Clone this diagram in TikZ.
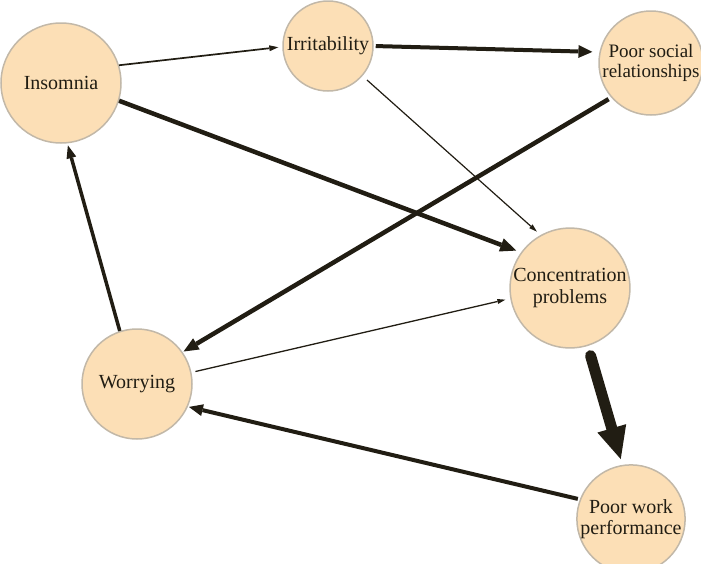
\documentclass[tikz,border=0pt]{standalone}
\usepackage{fontspec}
\setmainfont{Liberation Serif}
\usetikzlibrary{arrows.meta}
\definecolor{peach}{HTML}{FCDFB6}
\definecolor{rim}{HTML}{C2B8A8}
\definecolor{ink}{HTML}{211D13}
\begin{document}
\begin{tikzpicture}[x=1pt,y=-1pt,
  state/.style={circle,fill=peach,draw=rim,line width=1.5pt,inner sep=0pt,
    align=center,text=ink,font=\fontsize{20}{21}\selectfont},
  edge/.style={draw=ink,line cap=butt}]
\useasboundingbox (0,0) rectangle (701,563);
\node[state,minimum size=120pt] (ins) at (61,83) {Insomnia};
\node[state,minimum size=90pt] (irr) at (328,46) {Irritability};
\node[state,minimum size=86pt,font=\fontsize{19}{20}\selectfont] (pso) at (651,63) {Poor social\\relationships};
\node[state,minimum size=112pt] (con) at (570,288) {Concentration\\[1pt]problems};
\node[state,minimum size=110pt] (wor) at (137,384) {Worrying};
\node[state,minimum size=90pt] (pwp) at (631,519) {Poor work\\performance};

\draw[edge,line width=1.7pt,-{Triangle[length=9pt,width=6pt,line width=0pt]},shorten >=4pt] (ins.17) -- (irr.181);
\draw[edge,line width=4pt,-{Triangle[length=14pt,width=13pt,line width=0pt]},shorten >=7pt,shorten <=2pt] (irr.0) -- (pso.168);
\draw[edge,line width=1.2pt,-{Triangle[length=8pt,width=5pt,line width=0pt]},shorten >=5pt,shorten <=6pt] (irr.-41) -- (con.119);
\draw[edge,line width=4.5pt,-{Triangle[length=16pt,width=14pt,line width=0pt]},shorten >=5pt] (ins.-17) -- (con.144);
\draw[edge,line width=4.5pt,-{Triangle[length=15pt,width=13pt,line width=0pt]},shorten >=1pt,shorten <=3pt] (pso.-139) -- (wor.35);
\draw[edge,line width=1.3pt,-{Triangle[length=8pt,width=5pt,line width=0pt]},shorten >=5pt,shorten <=4pt] (wor.12) -- (con.190);
\draw[edge,line width=3.5pt,-{Triangle[length=13pt,width=10pt,line width=0pt]},shorten >=2pt] (wor.108) -- (ins.-84);
\draw[edge,line cap=round,line width=11pt,-{Triangle[length=32pt,width=30pt,line width=0pt]},shorten >=6pt,shorten <=10pt] (con.-73) -- (pwp.99);
\draw[edge,line width=4pt,-{Triangle[length=14pt,width=12pt,line width=0pt]},shorten >=1pt,shorten <=2pt] (pwp.159) -- (wor.-24);
\end{tikzpicture}
\end{document}
